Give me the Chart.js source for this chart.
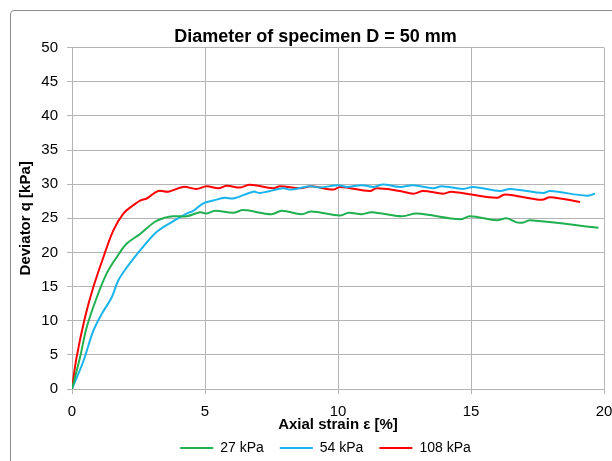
<!DOCTYPE html>
<html>
<head>
<meta charset="utf-8">
<script src="https://cdn.jsdelivr.net/npm/chart.js@4"></script>
<style>
  html, body { margin: 0; padding: 0; background: #fff; overflow: hidden; }
  #wrap { position: relative; width: 612px; height: 461px; }
  #frame {
    position: absolute; left: 10px; top: 10px; width: 640px; height: 480px;
    border: 1px solid #8c8c8c; border-radius: 4px; pointer-events: none;
  }
</style>
</head>
<body>
<div id="wrap">
  <canvas id="chart" width="612" height="461"></canvas>
  <div id="frame"></div>
</div>
<script>
// Data (axial strain in %, deviator q in kPa)
const strain27 = [0, 0.3, 0.55, 0.93, 1.3, 1.68, 2.06, 2.56, 3.12, 3.5, 3.81, 4.31, 4.81, 5.06, 5.38, 6.06, 6.44, 7.5, 7.88, 8.63, 9.0, 10.08, 10.4, 10.9, 11.27, 12.4, 12.96, 14.59, 14.96, 15.97, 16.34, 16.72, 16.97, 17.22, 19.79];
const q27 = [0, 4.6, 9.0, 13.4, 16.9, 19.3, 21.3, 22.7, 24.5, 25.1, 25.3, 25.3, 25.9, 25.7, 26.1, 25.8, 26.2, 25.6, 26.1, 25.6, 26.0, 25.4, 25.8, 25.6, 25.9, 25.3, 25.7, 24.85, 25.3, 24.7, 25.0, 24.4, 24.4, 24.7, 23.6];

const strain54 = [0, 0.43, 0.8, 1.12, 1.49, 1.74, 2.06, 2.56, 3.18, 3.81, 4.31, 4.56, 4.94, 5.31, 5.75, 6.06, 6.82, 7.07, 7.94, 8.2, 8.95, 9.32, 10.0, 10.33, 10.9, 11.33, 11.7, 12.33, 12.83, 13.58, 13.9, 14.7, 15.09, 16.09, 16.47, 17.72, 17.97, 19.35, 19.66];
const q54 = [0, 4.1, 8.5, 11.0, 13.4, 15.9, 17.8, 20.3, 23.0, 24.6, 25.7, 26.1, 27.2, 27.6, 28.0, 27.9, 28.9, 28.7, 29.4, 29.2, 29.7, 29.5, 29.85, 29.6, 29.85, 29.6, 29.95, 29.6, 29.85, 29.4, 29.7, 29.3, 29.6, 29.0, 29.3, 28.7, 29.0, 28.3, 28.6];

const strain108 = [0, 0.17, 0.49, 0.8, 1.18, 1.55, 1.93, 2.3, 2.56, 2.81, 3.24, 3.62, 4.18, 4.68, 5.06, 5.5, 5.82, 6.32, 6.69, 7.57, 7.82, 8.57, 9.0, 9.82, 10.08, 11.2, 11.45, 12.33, 12.83, 13.2, 13.96, 14.27, 15.97, 16.28, 17.66, 17.97, 19.1];
const q108 = [0, 4.6, 10.5, 14.9, 19.3, 23.2, 25.7, 26.9, 27.6, 27.9, 29.0, 28.9, 29.6, 29.3, 29.7, 29.4, 29.75, 29.5, 29.9, 29.4, 29.7, 29.4, 29.7, 29.2, 29.6, 29.0, 29.4, 29.0, 28.6, 29.0, 28.6, 28.9, 28.0, 28.5, 27.7, 28.1, 27.4];

const seriesLabels = ['27 kPa', '54 kPa', '108 kPa'];
const seriesColors = ['#1fb04f', '#17b4ee', '#ff0000'];

const xTicks = [0, 5, 10, 15, 20];
const yTicks = [0, 5, 10, 15, 20, 25, 30, 35, 40, 45, 50];

const font = 'Liberation Sans, Arial, sans-serif';
const gridColor = '#b4b4b4';

function toPoints(xs, ys) {
  return xs.map((x, i) => ({ x: x, y: ys[i] }));
}

function makeSet(i, xs, ys) {
  return {
    label: seriesLabels[i],
    data: toPoints(xs, ys),
    borderColor: seriesColors[i],
    backgroundColor: seriesColors[i],
    borderWidth: 2,
    pointRadius: 0,
    tension: 0.35,
    fill: false
  };
}

// legend sits a bit right of the title in the original
const legendShift = {
  id: 'legendShift',
  afterLayout(chart) {
    if (chart.legend) {
      chart.legend.left += 10;
      chart.legend.right += 10;
    }
  }
};

const ctx = document.getElementById('chart').getContext('2d');
new Chart(ctx, {
  type: 'line',
  data: {
    datasets: [
      makeSet(0, strain27, q27),
      makeSet(1, strain54, q54),
      makeSet(2, strain108, q108)
    ]
  },
  plugins: [legendShift],
  options: {
    responsive: false,
    animation: false,
    layout: { padding: { left: 10, top: 10, right: -9, bottom: -4 } },
    plugins: {
      title: {
        display: true,
        text: 'Diameter of specimen D = 50 mm',
        color: '#000',
        font: { family: font, size: 18, weight: 'bold' },
        padding: { top: 16, bottom: 0 }
      },
      legend: {
        position: 'bottom',
        labels: {
          color: '#000',
          font: { family: font, size: 14 },
          usePointStyle: true,
          pointStyle: 'line',
          pointStyleWidth: 33,
          padding: 16,
          boxHeight: 14
        }
      },
      tooltip: { enabled: false }
    },
    scales: {
      x: {
        type: 'linear',
        min: 0,
        max: 20,
        afterBuildTicks: s => { s.ticks = xTicks.map(v => ({ value: v })); },
        afterFit: s => { s.height = 36; s.paddingRight = 8; },
        grid: { color: gridColor, tickLength: 5 },
        border: { color: gridColor },
        ticks: { color: '#000', font: { family: font, size: 15 }, padding: 9, maxRotation: 0 },
        title: {
          display: true,
          text: 'Axial strain ε [%]',
          color: '#000',
          font: { family: font, size: 15, weight: 'bold' },
          padding: { top: -10, bottom: -9 }
        }
      },
      y: {
        min: 0,
        max: 50,
        afterBuildTicks: s => { s.ticks = yTicks.map(v => ({ value: v })); },
        afterFit: s => { s.width = 62; },
        grid: { color: gridColor, tickLength: 5 },
        border: { color: gridColor },
        ticks: { color: '#000', font: { family: font, size: 15 }, padding: 9 },
        title: {
          display: true,
          text: 'Deviator q [kPa]',
          color: '#000',
          font: { family: font, size: 15, weight: 'bold' },
          padding: { top: 7, bottom: 0 }
        }
      }
    }
  }
});
</script>
</body>
</html>
